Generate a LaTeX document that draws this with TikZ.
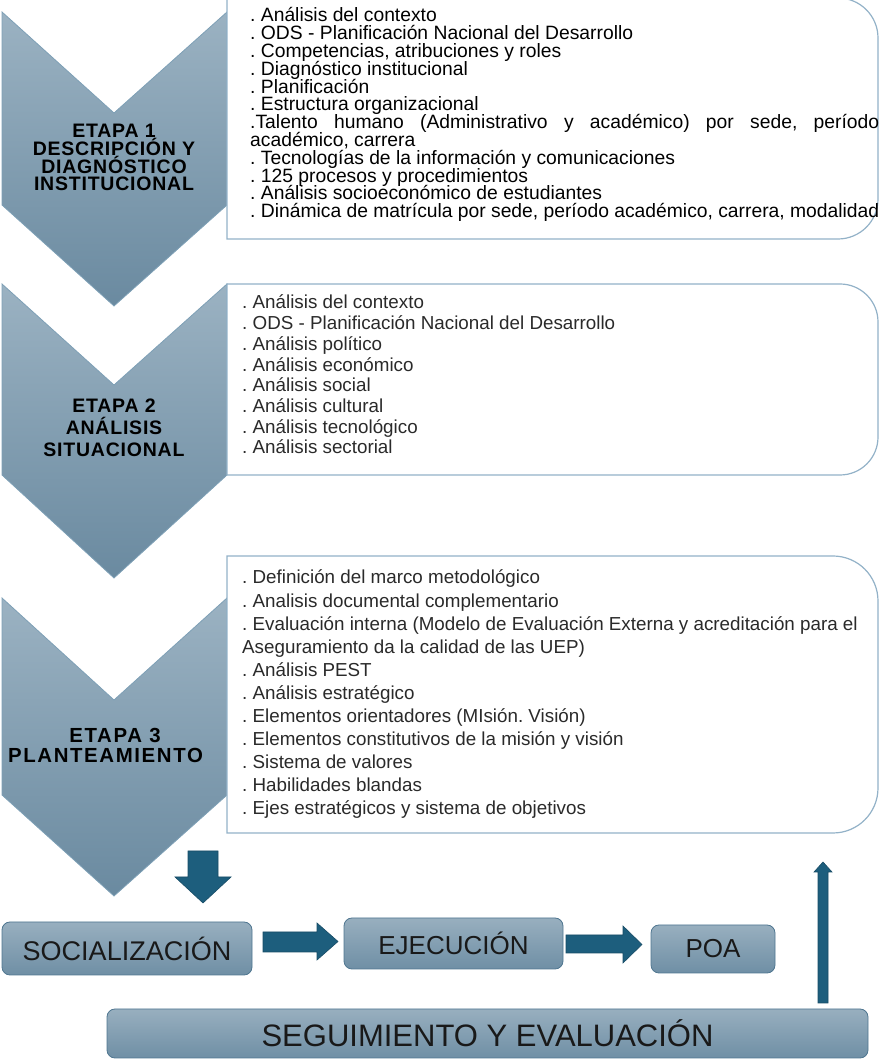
\documentclass[tikz,border=0pt]{standalone}
\usepackage{fontspec}
\setmainfont{Liberation Sans}
\newfontfamily\chevfont{Liberation Sans}[LetterSpace=4]
\newfontfamily\chevfontwide{Liberation Sans}[LetterSpace=8]
\usetikzlibrary{calc}
\definecolor{chevtop}{HTML}{9BB2C2}
\definecolor{chevbot}{HTML}{6A8AA0}
\definecolor{chevedge}{HTML}{7EA0B6}
\definecolor{boxedge}{HTML}{93B2C8}
\definecolor{arrowblue}{HTML}{1D5E7D}
\definecolor{arrowedge}{HTML}{184C66}
\definecolor{btop}{HTML}{98AFBF}
\definecolor{bbot}{HTML}{6F8FA5}
\definecolor{bedge}{HTML}{4F7690}
\definecolor{lighttext}{HTML}{2A2A2A}
\frenchspacing
\setlength{\lineskiplimit}{-100pt}
\newcommand{\tightlines}{\setlength{\lineskiplimit}{-100pt}}
\tikzset{
  chevron/.style={top color=chevtop, bottom color=chevbot, draw=chevedge, line width=0.8pt, line join=miter},
  listbox/.style={fill=white, draw=boxedge, line width=1.2pt},
  chevtext/.style={align=center, inner sep=0pt, text=black, execute at begin node=\tightlines, font=\chevfont\bfseries\fontsize{19.5}{17.8}\selectfont},
  listtext/.style={anchor=base west, inner sep=0pt},
  stagebox/.style={rounded corners=8pt, top color=btop, bottom color=bbot, draw=bedge, line width=0.8pt, inner sep=0pt, text=black!90},
  blockarrow/.style={fill=arrowblue, draw=arrowedge, line width=0.6pt, line join=miter}
}
\begin{document}
\begin{tikzpicture}[x=1pt,y=1pt]
\useasboundingbox (0,0) rectangle (880,1060);
% chevrons
\path[chevron] (2,1048) -- (114,947) -- (227,1048) -- (227,855) -- (114,754) -- (2,855) -- cycle;
\path[chevron] (2,776) -- (114,675) -- (227,776) -- (227,585) -- (114,482) -- (2,585) -- cycle;
\path[chevron] (2,462) -- (114,360) -- (227,462) -- (227,265) -- (114,164) -- (2,265) -- cycle;
% list boxes
\path[listbox] (227,1062) -- (838,1062) arc[start angle=90,end angle=0,radius=40] -- (878,861) arc[start angle=0,end angle=-90,radius=40] -- (227,821) -- cycle;
\path[listbox] (227,776) -- (840,776) arc[start angle=90,end angle=0,radius=38] -- (878,623) arc[start angle=0,end angle=-90,radius=38] -- (227,585) -- cycle;
\path[listbox] (227,504) -- (833,504) arc[start angle=90,end angle=0,radius=45] -- (878,272) arc[start angle=0,end angle=-90,radius=45] -- (227,227) -- cycle;
% chevron texts
\node[chevtext] (e1) at (114,902.5) {ETAPA 1\\DESCRIPCIÓN Y\\DIAGNÓSTICO\\INSTITUCIONAL};
\node[chevtext, font=\chevfont\bfseries\fontsize{19.5}{22}\selectfont] (e2) at (114,632) {ETAPA 2\\ANÁLISIS\\SITUACIONAL};
\node[chevtext, font=\chevfontwide\bfseries\fontsize{20.4}{20}\selectfont] (e3) at (105.5,315) {\hspace*{19pt}ETAPA 3\\PLANTEAMIENTO};
% list texts
\node[listtext] (l1) at (250,1038) {\parbox[t]{629pt}{\fontsize{19.3}{17.8}\selectfont\tightlines\raggedright
. Análisis del contexto\\
. ODS - Planificación Nacional del Desarrollo\\
. Competencias, atribuciones y roles\\
. Diagnóstico institucional\\
. Planificación\\
. Estructura organizacional\\
\makebox[629pt][s]{.Talento humano (Administrativo y académico) por sede, período}\\
académico, carrera\\
. Tecnologías de la información y comunicaciones\\
. 125 procesos y procedimientos\\
. Análisis socioeconómico de estudiantes\\
. Dinámica de matrícula por sede, período académico, carrera, modalidad}};
\node[listtext, text=lighttext] (l2) at (242,751) {\parbox[t]{620pt}{\fontsize{18.8}{20.7}\selectfont\tightlines\raggedright
. Análisis del contexto\\
. ODS - Planificación Nacional del Desarrollo\\
. Análisis político\\
. Análisis económico\\
. Análisis social\\
. Análisis cultural\\
. Análisis tecnológico\\
. Análisis sectorial}};
\node[listtext, text=lighttext] (l3) at (242,476) {\parbox[t]{630pt}{\fontsize{18.8}{23.1}\selectfont\tightlines\raggedright
. Definición del marco metodológico\\
. Analisis documental complementario\\
. Evaluación interna (Modelo de Evaluación Externa y acreditación para el\\
Aseguramiento da la calidad de las UEP)\\
. Análisis PEST\\
. Análisis estratégico\\
. Elementos orientadores (MIsión. Visión)\\
. Elementos constitutivos de la misión y visión\\
. Sistema de valores\\
. Habilidades blandas\\
. Ejes estratégicos y sistema de objetivos}};
% bottom stage boxes
\node[stagebox, minimum width=250pt, minimum height=53pt, font=\fontsize{27}{30}\selectfont] (soc) at (127,111.5) {SOCIALIZACIÓN};
\node[stagebox, minimum width=219pt, minimum height=51pt, font=\fontsize{26}{30}\selectfont] (eje) at (453.5,116.5) {EJECUCIÓN};
\node[stagebox, minimum width=124pt, minimum height=48pt, font=\fontsize{26}{30}\selectfont] (poa) at (713,111) {POA};
\node[stagebox, minimum width=761pt, minimum height=49pt, font=\fontsize{31}{34}\selectfont] (seg) at (487.5,26.5) {SEGUIMIENTO Y EVALUACIÓN};
% block arrows
\path[blockarrow] (188,209) -- (218,209) -- (218,183) -- (231,183) -- (203,157) -- (175,183) -- (188,183) -- cycle;
\path[blockarrow] (263,128) -- (317,128) -- (317,137) -- (338,118.5) -- (317,100) -- (317,108) -- (263,108) -- cycle;
\path[blockarrow] (566,125) -- (623,125) -- (623,134) -- (642,115.5) -- (623,97) -- (623,107) -- (566,107) -- cycle;
\path[blockarrow] (818,57) -- (818,188) -- (814,188) -- (823,198) -- (832,188) -- (828,188) -- (828,57) -- cycle;
\end{tikzpicture}
\end{document}
